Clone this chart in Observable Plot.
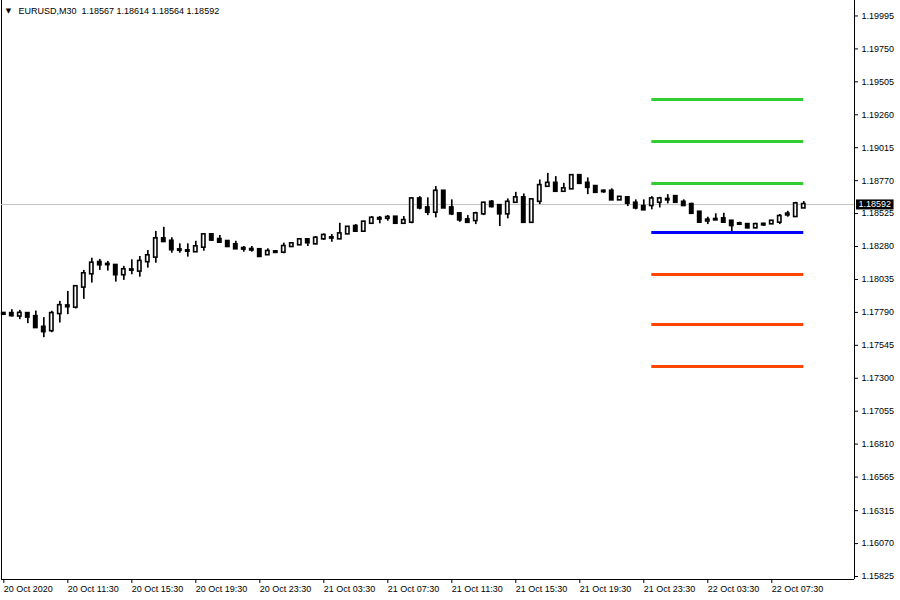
<!DOCTYPE html>
<html>
<head>
<meta charset="utf-8">
<script src="https://cdn.jsdelivr.net/npm/d3@7"></script>
<script src="https://cdn.jsdelivr.net/npm/@observablehq/plot@0.6"></script>
<style>
  html, body { margin: 0; padding: 0; background: white; }
  #chart { width: 900px; height: 600px; }
</style>
</head>
<body>
<div id="chart"></div>
<script>
// ---- Data (EURUSD M30, bars from 20 Oct 07:30 to 22 Oct 09:30) ----
const opens = [1.17782,1.17781,1.17763,1.17781,1.17758,1.17679,1.17654,1.17781,1.17838,1.17829,
1.17978,1.18077,1.18161,1.18147,1.18139,1.18070,1.18104,1.18097,1.18167,1.18201,
1.18337,1.18319,1.18255,1.18248,1.18241,1.18275,1.18367,1.18332,1.18317,1.18293,
1.18265,1.18258,1.18256,1.18219,1.18240,1.18238,1.18280,1.18293,1.18330,1.18300,
1.18337,1.18345,1.18337,1.18374,1.18429,1.18394,1.18453,1.18488,1.18490,1.18498,
1.18453,1.18461,1.18634,1.18567,1.18535,1.18691,1.18567,1.18523,1.18478,1.18473,
1.18523,1.18609,1.18584,1.18523,1.18609,1.18642,1.18460,1.18616,1.18728,1.18750,
1.18691,1.18709,1.18807,1.18750,1.18726,1.18688,1.18691,1.18627,1.18642,1.18602,
1.18577,1.18585,1.18609,1.18627,1.18651,1.18609,1.18592,1.18535,1.18470,1.18478,
1.18486,1.18468,1.18446,1.18443,1.18419,1.18441,1.18449,1.18461,1.18515,1.18503,
1.18567];
const highs = [1.17786,1.17810,1.17805,1.17785,1.17800,1.17751,1.17798,1.17872,1.17946,1.17981,
1.18102,1.18193,1.18184,1.18169,1.18139,1.18132,1.18181,1.18206,1.18250,1.18392,
1.18423,1.18345,1.18300,1.18300,1.18319,1.18374,1.18370,1.18362,1.18317,1.18319,
1.18280,1.18280,1.18263,1.18263,1.18250,1.18305,1.18305,1.18337,1.18337,1.18354,
1.18374,1.18369,1.18453,1.18425,1.18443,1.18468,1.18503,1.18503,1.18510,1.18503,
1.18503,1.18642,1.18651,1.18642,1.18726,1.18693,1.18627,1.18525,1.18510,1.18535,
1.18609,1.18622,1.18590,1.18634,1.18683,1.18671,1.18630,1.18775,1.18824,1.18800,
1.18750,1.18810,1.18815,1.18790,1.18733,1.18701,1.18709,1.18648,1.18651,1.18627,
1.18627,1.18651,1.18646,1.18666,1.18659,1.18627,1.18602,1.18537,1.18498,1.18523,
1.18527,1.18470,1.18461,1.18446,1.18453,1.18453,1.18473,1.18518,1.18542,1.18609,
1.18614];
const lows = [1.17770,1.17755,1.17736,1.17706,1.17671,1.17602,1.17639,1.17711,1.17773,1.17815,
1.17887,1.18008,1.18102,1.18097,1.18015,1.18028,1.18070,1.18052,1.18119,1.18156,
1.18312,1.18230,1.18230,1.18201,1.18241,1.18245,1.18319,1.18310,1.18275,1.18263,
1.18238,1.18238,1.18201,1.18213,1.18230,1.18226,1.18275,1.18290,1.18280,1.18293,
1.18325,1.18312,1.18335,1.18369,1.18386,1.18386,1.18449,1.18449,1.18468,1.18449,
1.18449,1.18449,1.18553,1.18510,1.18493,1.18565,1.18510,1.18460,1.18453,1.18443,
1.18510,1.18567,1.18429,1.18486,1.18605,1.18453,1.18453,1.18592,1.18720,1.18688,
1.18683,1.18705,1.18746,1.18666,1.18676,1.18676,1.18622,1.18622,1.18577,1.18553,
1.18550,1.18553,1.18567,1.18597,1.18605,1.18577,1.18518,1.18453,1.18443,1.18475,
1.18453,1.18386,1.18436,1.18412,1.18412,1.18429,1.18443,1.18443,1.18498,1.18500,
1.18564];
const closes = [1.17776,1.17766,1.17783,1.17755,1.17677,1.17647,1.17781,1.17840,1.17832,1.17981,
1.18077,1.18156,1.18144,1.18145,1.18070,1.18107,1.18106,1.18169,1.18211,1.18337,
1.18317,1.18256,1.18252,1.18245,1.18278,1.18367,1.18328,1.18312,1.18280,1.18263,
1.18261,1.18254,1.18206,1.18243,1.18236,1.18280,1.18300,1.18330,1.18308,1.18342,
1.18362,1.18343,1.18374,1.18423,1.18394,1.18461,1.18490,1.18484,1.18496,1.18453,
1.18473,1.18634,1.18567,1.18535,1.18691,1.18567,1.18523,1.18478,1.18460,1.18523,
1.18602,1.18577,1.18523,1.18609,1.18642,1.18460,1.18627,1.18733,1.18750,1.18691,
1.18709,1.18807,1.18750,1.18720,1.18683,1.18691,1.18627,1.18646,1.18602,1.18567,
1.18553,1.18634,1.18634,1.18630,1.18609,1.18585,1.18527,1.18461,1.18476,1.18481,
1.18461,1.18436,1.18449,1.18419,1.18443,1.18445,1.18468,1.18503,1.18521,1.18597,
1.18592];

// x-axis tick labels (every 8th M30 bar)
const xTickIndex = [0,8,16,24,32,40,48,56,64,72,80,88,96];
const xTickLabels = ["20 Oct 2020","20 Oct 11:30","20 Oct 15:30","20 Oct 19:30","20 Oct 23:30",
  "21 Oct 03:30","21 Oct 07:30","21 Oct 11:30","21 Oct 15:30","21 Oct 19:30",
  "21 Oct 23:30","22 Oct 03:30","22 Oct 07:30"];

// price scale labels
const yTicks = [1.19995,1.19750,1.19505,1.19260,1.19015,1.18770,1.18525,1.18280,1.18035,
  1.17790,1.17545,1.17300,1.17055,1.16810,1.16565,1.16315,1.16070,1.15825];

// pivot levels for 22 Oct (drawn from bar 81, the day's first bar, to the last bar)
const levelNames = ["R3","R2","R1","PP","S1","S2","S3"];
const levelValues = [1.19374,1.19061,1.18749,1.18384,1.18072,1.17700,1.17387];
const levelColors = ["#32CD32","#32CD32","#32CD32","#0000FF","#FF4500","#FF4500","#FF4500"];
const levelStartBar = 81;
const levelEndBar = 100;

const symbolTitle = "EURUSD,M30";
const xDomain = [-0.29, 106.34];
const yDomain = [1.15803, 1.20110];

// ---- build tables ----
const candles = opens.map((o, i) => ({i, open: o, high: highs[i], low: lows[i], close: closes[i]}));
const last = candles[candles.length - 1];
const levels = levelNames.map((n, j) => ({name: n, value: levelValues[j], color: levelColors[j], x1: levelStartBar, x2: levelEndBar}));
const fmt = v => v.toFixed(5);
const titleText = symbolTitle + "\u00A0\u00A0" + [last.open, last.high, last.low, last.close].map(fmt).join(" ");
const half = 0.21;

const plot = Plot.plot({
  width: 900,
  height: 600,
  marginTop: 0,
  marginRight: 46,
  marginBottom: 21,
  marginLeft: 1,
  style: {fontFamily: "'Liberation Sans', Arial, sans-serif", fontSize: "9px", color: "black", background: "white"},
  x: {type: "linear", domain: xDomain, axis: null},
  y: {domain: yDomain, axis: null},
  marks: [
    // frame lines
    Plot.ruleX([xDomain[0]], {stroke: "black", strokeWidth: 1}),
    Plot.ruleX([xDomain[1]], {stroke: "black", strokeWidth: 1}),
    Plot.ruleY([yDomain[0]], {stroke: "black", strokeWidth: 1}),
    // current bid line
    Plot.ruleY([last.close], {stroke: "#c0c0c0", strokeWidth: 1}),
    // candle wicks
    Plot.ruleX(candles, {x: "i", y1: "low", y2: "high", stroke: "black", strokeWidth: 1.7}),
    // bodies
    Plot.rect(candles.filter(d => d.close >= d.open), {
      x1: d => d.i - half, x2: d => d.i + half, y1: "open", y2: "close",
      fill: "white", stroke: "black", strokeWidth: 1.6, insetTop: -0.5, insetBottom: -0.5
    }),
    Plot.rect(candles.filter(d => d.close < d.open), {
      x1: d => d.i - half, x2: d => d.i + half, y1: "open", y2: "close",
      fill: "black", stroke: "black", strokeWidth: 1.6, insetTop: -0.5, insetBottom: -0.5
    }),
    // pivot lines
    Plot.ruleY(levels, {y: "value", x1: "x1", x2: "x2", stroke: "color", strokeWidth: 3}),
    // axes
    Plot.axisY(yTicks, {anchor: "right", tickSize: 3, tickPadding: 4, tickFormat: fmt}),
    Plot.axisX(xTickIndex, {anchor: "bottom", tickSize: 4, tickPadding: 2, textAnchor: "start",
      tickFormat: (d) => xTickLabels[xTickIndex.indexOf(d)]}),
    // title
    Plot.text(["\u25BC"], {frameAnchor: "top-left", dx: 7, dy: 10, fontSize: 7, fontFamily: "DejaVu Sans", textAnchor: "middle", lineAnchor: "middle"}),
    Plot.text([titleText], {frameAnchor: "top-left", dx: 17, dy: 11, textAnchor: "start", lineAnchor: "middle"}),
    // current price tag
    Plot.text([last.close], {x: xDomain[1], y: d => d, text: fmt, textAnchor: "start", lineAnchor: "middle", dx: 4, fill: "white"})
  ]
});
document.getElementById("chart").appendChild(plot);

// black box behind the current price tag
const tagText = fmt(last.close);
const tag = Array.from(plot.querySelectorAll("text")).find(t => t.textContent === tagText);
if (tag) {
  const bb = tag.getBBox();
  const r = document.createElementNS("http://www.w3.org/2000/svg", "rect");
  r.setAttribute("x", bb.x - 2.5);
  r.setAttribute("y", bb.y);
  r.setAttribute("width", bb.width + 5);
  r.setAttribute("height", bb.height);
  r.setAttribute("fill", "black");
  const tf = tag.getAttribute("transform");
  if (tf) r.setAttribute("transform", tf);
  tag.parentNode.insertBefore(r, tag);
}
</script>
</body>
</html>
